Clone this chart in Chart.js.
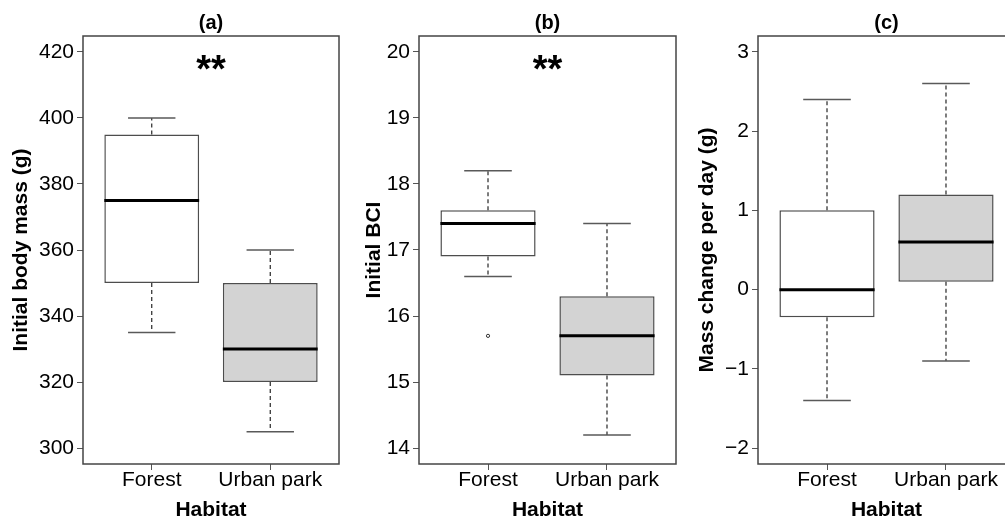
<!DOCTYPE html>
<html>
<head>
<meta charset="utf-8">
<script src="https://cdn.jsdelivr.net/npm/chart.js@4"></script>
<style>
  html, body { margin: 0; padding: 0; background: #ffffff; overflow: hidden; width: 1005px; height: 522px; }
  canvas { position: absolute; top: 0; }
</style>
</head>
<body>
<canvas id="panelA" width="345" height="522" style="left:0px"></canvas>
<canvas id="panelB" width="331" height="522" style="left:350px"></canvas>
<canvas id="panelC" width="335" height="522" style="left:685px"></canvas>
<script>
// Habitat groups shown on every x axis
const habitats = ['Forest', 'Urban park'];
const boxFills = ['#ffffff', '#d3d3d3'];

// (a) Initial body mass (g)
const massTicks = [300, 320, 340, 360, 380, 400, 420];
const massLowerWhisker = [335, 305];
const massQ1 = [350, 320];
const massMedian = [375, 330];
const massQ3 = [395, 350];
const massUpperWhisker = [400, 360];
const massOutliers = [[], []];
const massSignif = '**';

// (b) Initial BCI
const bciTicks = [14, 15, 16, 17, 18, 19, 20];
const bciLowerWhisker = [16.6, 14.2];
const bciQ1 = [16.9, 15.1];
const bciMedian = [17.4, 15.7];
const bciQ3 = [17.6, 16.3];
const bciUpperWhisker = [18.2, 17.4];
const bciOutliers = [[15.7], []];
const bciSignif = '**';

// (c) Mass change per day (g)
const changeTicks = [-2, -1, 0, 1, 2, 3];
const changeLowerWhisker = [-1.4, -0.9];
const changeQ1 = [-0.35, 0.1];
const changeMedian = [0, 0.6];
const changeQ3 = [1.0, 1.2];
const changeUpperWhisker = [2.4, 2.6];
const changeOutliers = [[], []];
const changeSignif = '';

const FONT = "'Liberation Sans', Arial, Helvetica, sans-serif";
const BOX_WIDTH = 0.8;      // box width in category units
const CAP_WIDTH = 0.4;      // whisker staple width in category units
const X_MIN = 0.5 - 0.04 * 2;
const X_MAX = 2.5 + 0.04 * 2;

function fmtTick(v) {
  return v < 0 ? '\u2212' + Math.abs(v) : String(v);
}

function makePanel(p) {
  const yMin = p.ticks[0] - 0.04 * (p.ticks[p.ticks.length - 1] - p.ticks[0]);
  const yMax = p.ticks[p.ticks.length - 1] + 0.04 * (p.ticks[p.ticks.length - 1] - p.ticks[0]);

  const whiskers = [], caps = [], medians = [], outliers = [];
  habitats.forEach((h, i) => {
    const x = i + 1;
    whiskers.push({x, y: p.q3[i]}, {x, y: p.hi[i]}, {x, y: null},
                  {x, y: p.q1[i]}, {x, y: p.lo[i]}, {x, y: null});
    caps.push({x: x - CAP_WIDTH / 2, y: p.hi[i]}, {x: x + CAP_WIDTH / 2, y: p.hi[i]}, {x, y: null},
              {x: x - CAP_WIDTH / 2, y: p.lo[i]}, {x: x + CAP_WIDTH / 2, y: p.lo[i]}, {x, y: null});
    medians.push({x: x - BOX_WIDTH / 2, y: p.med[i]}, {x: x + BOX_WIDTH / 2, y: p.med[i]}, {x, y: null});
    p.out[i].forEach(v => outliers.push({x, y: v}));
  });

  const lineBase = {
    type: 'line', fill: false, tension: 0, pointRadius: 0, pointHitRadius: 0,
    spanGaps: false, borderCapStyle: 'butt'
  };

  const canvas = document.getElementById(p.id);
  const canvasLeft = parseFloat(canvas.style.left);

  const framePlugin = {
    id: 'frame' + p.id,
    afterDraw(chart) {
      const {ctx, chartArea: a} = chart;
      ctx.save();
      ctx.strokeStyle = '#444444';
      ctx.lineWidth = 1.5;
      ctx.strokeRect(a.left, a.top, a.right - a.left, a.bottom - a.top);
      if (p.signif) {
        ctx.fillStyle = '#000000';
        ctx.font = 'bold 38px ' + FONT;
        ctx.textAlign = 'center';
        ctx.textBaseline = 'middle';
        ctx.fillText(p.signif, chart.scales.x.getPixelForValue((X_MIN + X_MAX) / 2), a.top + 36);
      }
      ctx.restore();
    }
  };

  return new Chart(canvas, {
    type: 'bar',
    data: {
      datasets: [
        {
          type: 'bar',
          data: habitats.map((h, i) => ({x: i + 1, y: [p.q1[i], p.q3[i]]})),
          backgroundColor: boxFills,
          borderColor: '#4d4d4d',
          borderWidth: 1.5,
          borderSkipped: false,
          barPercentage: BOX_WIDTH,
          categoryPercentage: 1,
          order: 4
        },
        Object.assign({}, lineBase, {
          data: whiskers, borderColor: '#262626', borderWidth: 1.2, borderDash: [4, 3], order: 3
        }),
        Object.assign({}, lineBase, {
          data: caps, borderColor: '#595959', borderWidth: 1.5, order: 2
        }),
        Object.assign({}, lineBase, {
          data: medians, borderColor: '#000000', borderWidth: 3, order: 1
        }),
        {
          type: 'scatter',
          data: outliers,
          pointStyle: 'circle',
          pointRadius: 1.6,
          pointBorderWidth: 1,
          pointBorderColor: '#333333',
          pointBackgroundColor: '#ffffff',
          order: 0
        }
      ]
    },
    options: {
      responsive: false,
      animation: false,
      events: [],
      layout: { padding: { left: 0, top: 0, bottom: 0, right: canvas.width - (p.plotRight - canvasLeft) } },
      plugins: {
        legend: { display: false },
        tooltip: { enabled: false },
        title: {
          display: true,
          text: p.title,
          fullSize: false,
          color: '#000000',
          font: { family: FONT, size: 20, weight: 'bold', lineHeight: 1 },
          padding: { top: 13, bottom: 3 }
        }
      },
      scales: {
        x: {
          type: 'linear',
          min: X_MIN,
          max: X_MAX,
          offset: false,
          afterBuildTicks: s => { s.ticks = habitats.map((h, i) => ({value: i + 1})); },
          afterFit: s => { s.height = 58; },
          border: { display: false },
          grid: { display: true, drawOnChartArea: false, drawTicks: true, tickLength: 6, color: '#555555', offset: false },
          ticks: {
            callback: v => habitats[Math.round(v) - 1],
            color: '#000000',
            padding: 0,
            maxRotation: 0,
            autoSkip: false,
            font: { family: FONT, size: 21, lineHeight: 1 }
          },
          title: {
            display: true,
            text: 'Habitat',
            color: '#000000',
            font: { family: FONT, size: 21, weight: 'bold', lineHeight: 1 },
            padding: { top: 0, bottom: 1.5 }
          }
        },
        y: {
          type: 'linear',
          min: yMin,
          max: yMax,
          afterBuildTicks: s => { s.ticks = p.ticks.map(v => ({value: v})); },
          afterFit: s => { s.width = p.plotLeft - canvasLeft; },
          border: { display: false },
          grid: { display: true, drawOnChartArea: false, drawTicks: true, tickLength: 6, color: '#555555' },
          ticks: {
            callback: v => fmtTick(v),
            color: '#000000',
            padding: 3,
            font: { family: FONT, size: 21, lineHeight: 1 }
          },
          title: {
            display: true,
            text: p.yTitle,
            color: '#000000',
            font: { family: FONT, size: 21, weight: 'bold', lineHeight: 1 },
            padding: { top: p.yTitleX - canvasLeft - 10.5, bottom: 0 }
          }
        }
      }
    },
    plugins: [framePlugin]
  });
}

makePanel({
  id: 'panelA', title: '(a)', yTitle: 'Initial body mass (g)', yTitleX: 21,
  plotLeft: 83, plotRight: 339,
  ticks: massTicks, lo: massLowerWhisker, q1: massQ1, med: massMedian, q3: massQ3,
  hi: massUpperWhisker, out: massOutliers, signif: massSignif
});

makePanel({
  id: 'panelB', title: '(b)', yTitle: 'Initial BCI', yTitleX: 374,
  plotLeft: 419, plotRight: 676,
  ticks: bciTicks, lo: bciLowerWhisker, q1: bciQ1, med: bciMedian, q3: bciQ3,
  hi: bciUpperWhisker, out: bciOutliers, signif: bciSignif
});

makePanel({
  id: 'panelC', title: '(c)', yTitle: 'Mass change per day (g)', yTitleX: 707,
  plotLeft: 758, plotRight: 1015,
  ticks: changeTicks, lo: changeLowerWhisker, q1: changeQ1, med: changeMedian, q3: changeQ3,
  hi: changeUpperWhisker, out: changeOutliers, signif: changeSignif
});
</script>
</body>
</html>
